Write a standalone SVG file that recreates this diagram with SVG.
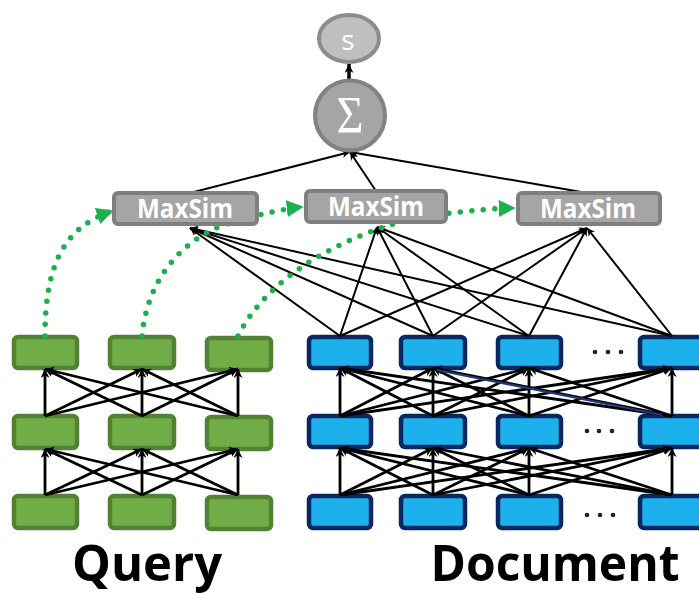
<svg xmlns="http://www.w3.org/2000/svg" width="699" height="595" viewBox="0 0 699 595">
<style>
.q{fill:#70ad47;stroke:#548235;stroke-width:4.5}
.d{fill:#1cb0ec;stroke:#08285f;stroke-width:4.5}
.g{fill:#a5a5a5;stroke:#7f7f7f;stroke-width:4}
.ms{font-family:"Open Sans","Liberation Sans",sans-serif;font-weight:bold;font-size:26px;fill:#fff;text-anchor:middle}
.lbl{font-family:"Open Sans","Liberation Sans",sans-serif;font-weight:bold;font-size:50px;fill:#000;text-anchor:middle}
.th{stroke:#000;stroke-width:2.8;fill:none;marker-end:url(#ah)}
.tn{stroke:#000;stroke-width:2;fill:none;marker-end:url(#ah2)}
.gr{stroke:#1bb04e;stroke-width:5.5;stroke-linecap:round;stroke-dasharray:0 11.5;fill:none;marker-end:url(#gh)}
.dot{fill:#222}
</style>
<defs>
<marker id="ah" viewBox="0 0 10 10" refX="10" refY="5" markerWidth="9" markerHeight="9" markerUnits="userSpaceOnUse" orient="auto"><path d="M0,0 L10,5 L0,10 L3,5z" fill="#000"/></marker>
<marker id="ah2" viewBox="0 0 10 10" refX="10" refY="5" markerWidth="8" markerHeight="8" markerUnits="userSpaceOnUse" orient="auto"><path d="M0,0 L10,5 L0,10 L3,5z" fill="#000"/></marker>
<marker id="gh" viewBox="0 0 10 10" refX="9" refY="5" markerWidth="17" markerHeight="17" markerUnits="userSpaceOnUse" orient="auto"><path d="M0,0 L10,5 L0,10z" fill="#1bb04e"/></marker>
</defs>

<g id="query-r1c1"><rect class="q" x="14" y="337" width="63" height="31" rx="4"/></g>
<g id="query-r1c2"><rect class="q" x="110" y="337" width="64" height="31" rx="4"/></g>
<g id="query-r1c3"><rect class="q" x="207" y="338" width="64" height="32" rx="4"/></g>
<g id="query-r2c1"><rect class="q" x="14" y="416" width="63" height="32" rx="4"/></g>
<g id="query-r2c2"><rect class="q" x="110" y="416" width="64" height="32" rx="4"/></g>
<g id="query-r2c3"><rect class="q" x="207" y="417" width="64" height="32" rx="4"/></g>
<g id="query-r3c1"><rect class="q" x="14" y="496" width="63" height="32" rx="4"/></g>
<g id="query-r3c2"><rect class="q" x="110" y="496" width="64" height="32" rx="4"/></g>
<g id="query-r3c3"><rect class="q" x="207" y="497" width="64" height="32" rx="4"/></g>

<g id="doc-r1c1"><rect class="d" x="309" y="337" width="62" height="31" rx="4"/></g>
<g id="doc-r1c2"><rect class="d" x="401" y="337" width="64" height="31" rx="4"/></g>
<g id="doc-r1c3"><rect class="d" x="498" y="337" width="63" height="31" rx="4"/></g>
<g id="doc-r1c4"><rect class="d" x="640" y="337" width="64" height="31" rx="4"/></g>
<g id="doc-r2c1"><rect class="d" x="309" y="416" width="62" height="31" rx="4"/></g>
<g id="doc-r2c2"><rect class="d" x="401" y="416" width="64" height="31" rx="4"/></g>
<g id="doc-r2c3"><rect class="d" x="498" y="416" width="63" height="31" rx="4"/></g>
<g id="doc-r2c4"><rect class="d" x="640" y="416" width="64" height="31" rx="4"/></g>
<g id="doc-r3c1"><rect class="d" x="309" y="496" width="62" height="32" rx="4"/></g>
<g id="doc-r3c2"><rect class="d" x="401" y="496" width="64" height="32" rx="4"/></g>
<g id="doc-r3c3"><rect class="d" x="498" y="496" width="63" height="32" rx="4"/></g>
<g id="doc-r3c4"><rect class="d" x="640" y="496" width="64" height="32" rx="4"/></g>

<g id="ellipsis-1"><circle class="dot" cx="595" cy="352" r="2.3"/><circle class="dot" cx="608" cy="352" r="2.3"/><circle class="dot" cx="621" cy="352" r="2.3"/></g>
<g id="ellipsis-2"><circle class="dot" cx="587" cy="431" r="2.3"/><circle class="dot" cx="599" cy="431" r="2.3"/><circle class="dot" cx="612" cy="431" r="2.3"/></g>
<g id="ellipsis-3"><circle class="dot" cx="587" cy="515" r="2.3"/><circle class="dot" cx="600" cy="515" r="2.3"/><circle class="dot" cx="613" cy="515" r="2.3"/></g>

<g id="connectors">
<line class="th" x1="45" y1="495" x2="45" y2="449"/>
<line class="th" x1="45" y1="495" x2="142" y2="449"/>
<line class="th" x1="45" y1="495" x2="238" y2="449"/>
<line class="th" x1="142" y1="495" x2="45" y2="449"/>
<line class="th" x1="142" y1="495" x2="142" y2="449"/>
<line class="th" x1="142" y1="495" x2="238" y2="449"/>
<line class="th" x1="238" y1="495" x2="45" y2="449"/>
<line class="th" x1="238" y1="495" x2="142" y2="449"/>
<line class="th" x1="238" y1="495" x2="238" y2="449"/>
<line class="th" x1="45" y1="416" x2="45" y2="369"/>
<line class="th" x1="45" y1="416" x2="142" y2="369"/>
<line class="th" x1="45" y1="416" x2="238" y2="369"/>
<line class="th" x1="142" y1="416" x2="45" y2="369"/>
<line class="th" x1="142" y1="416" x2="142" y2="369"/>
<line class="th" x1="142" y1="416" x2="238" y2="369"/>
<line class="th" x1="238" y1="416" x2="45" y2="369"/>
<line class="th" x1="238" y1="416" x2="142" y2="369"/>
<line class="th" x1="238" y1="416" x2="238" y2="369"/>
<line class="th" x1="340" y1="495" x2="340" y2="448"/>
<line class="th" x1="340" y1="495" x2="433" y2="448"/>
<line class="th" x1="340" y1="495" x2="529" y2="448"/>
<line class="th" x1="340" y1="495" x2="672" y2="448"/>
<line class="th" x1="433" y1="495" x2="340" y2="448"/>
<line class="th" x1="433" y1="495" x2="433" y2="448"/>
<line class="th" x1="433" y1="495" x2="529" y2="448"/>
<line class="th" x1="433" y1="495" x2="672" y2="448"/>
<line class="th" x1="529" y1="495" x2="340" y2="448"/>
<line class="th" x1="529" y1="495" x2="433" y2="448"/>
<line class="th" x1="529" y1="495" x2="529" y2="448"/>
<line class="th" x1="529" y1="495" x2="672" y2="448"/>
<line class="th" x1="672" y1="495" x2="340" y2="448"/>
<line class="th" x1="672" y1="495" x2="433" y2="448"/>
<line class="th" x1="672" y1="495" x2="529" y2="448"/>
<line class="th" x1="672" y1="495" x2="672" y2="448"/>
<line class="th" x1="340" y1="416" x2="340" y2="368"/>
<line class="th" x1="340" y1="416" x2="433" y2="368"/>
<line class="th" x1="340" y1="416" x2="529" y2="368"/>
<line class="th" x1="340" y1="416" x2="672" y2="368"/>
<line class="th" x1="433" y1="416" x2="340" y2="368"/>
<line class="th" x1="433" y1="416" x2="433" y2="368"/>
<line class="th" x1="433" y1="416" x2="529" y2="368"/>
<line class="th" x1="433" y1="416" x2="672" y2="368"/>
<line class="th" x1="529" y1="416" x2="340" y2="368"/>
<line class="th" x1="529" y1="416" x2="433" y2="368"/>
<line class="th" x1="529" y1="416" x2="529" y2="368"/>
<line class="th" x1="529" y1="416" x2="672" y2="368"/>
<line class="th" x1="672" y1="416" x2="340" y2="368"/>
<line class="th" x1="672" y1="416" x2="433" y2="368"/>
<line class="th" x1="672" y1="416" x2="529" y2="368"/>
<line class="th" x1="672" y1="416" x2="672" y2="368"/>
<line x1="437" y1="370" x2="662" y2="415" stroke="#1f3a7a" stroke-width="2.2"/>
<line class="tn" x1="340" y1="336" x2="190" y2="228"/>
<line class="tn" x1="433" y1="336" x2="190" y2="228"/>
<line class="tn" x1="529" y1="336" x2="190" y2="228"/>
<line class="tn" x1="672" y1="336" x2="190" y2="228"/>
<line class="tn" x1="340" y1="336" x2="377" y2="227"/>
<line class="tn" x1="433" y1="336" x2="377" y2="227"/>
<line class="tn" x1="529" y1="336" x2="377" y2="227"/>
<line class="tn" x1="672" y1="336" x2="377" y2="227"/>
<line class="tn" x1="340" y1="336" x2="587" y2="228"/>
<line class="tn" x1="433" y1="336" x2="587" y2="228"/>
<line class="tn" x1="529" y1="336" x2="587" y2="228"/>
<line class="tn" x1="672" y1="336" x2="587" y2="228"/>
<line class="tn" x1="190" y1="193" x2="350" y2="152"/>
<line class="tn" x1="376" y1="191" x2="350" y2="152"/>
<line class="tn" x1="587" y1="193" x2="350" y2="152"/>
<line x1="349" y1="80" x2="349" y2="64" stroke="#000" stroke-width="3.5" marker-end="url(#ah)"/>
<path class="gr" d="M45,336 C45,268 62,228 112,211"/>
<path class="gr" d="M142,336 C148,272 190,232 240,220 C265,213 284,209 302,207"/>
<path class="gr" d="M238,336 C265,282 330,242 400,222 C440,213 480,209 514,208"/>
</g>

<g id="maxsim-1"><rect class="g" x="114" y="193" width="143" height="31" rx="4"/><text class="ms" x="185" y="218" textLength="96" lengthAdjust="spacingAndGlyphs">MaxSim</text></g>
<g id="maxsim-2"><rect class="g" x="306" y="191" width="140" height="31" rx="4"/><text class="ms" x="376" y="216" textLength="96" lengthAdjust="spacingAndGlyphs">MaxSim</text></g>
<g id="maxsim-3"><rect class="g" x="518" y="193" width="142" height="31" rx="4"/><text class="ms" x="588" y="218" textLength="96" lengthAdjust="spacingAndGlyphs">MaxSim</text></g>

<g id="sum"><circle cx="350" cy="115.5" r="35" fill="#a5a5a5" stroke="#828282" stroke-width="4"/><text x="350" y="133" font-family="'Liberation Serif','DejaVu Serif',serif" font-size="52" fill="#fff" text-anchor="middle" textLength="27" lengthAdjust="spacingAndGlyphs">Σ</text></g>
<g id="score"><ellipse cx="349" cy="38.5" rx="30" ry="23.5" fill="#bfbfbf" stroke="#8c8c8c" stroke-width="4"/><text x="348" y="50" font-family="'Open Sans','Liberation Sans',sans-serif" font-size="28" fill="#fff" text-anchor="middle">s</text></g>

<g id="label-query"><text class="lbl" x="147" y="581" textLength="150" lengthAdjust="spacingAndGlyphs">Query</text></g>
<g id="label-document"><text class="lbl" x="555" y="581" textLength="249" lengthAdjust="spacingAndGlyphs">Document</text></g>
</svg>
